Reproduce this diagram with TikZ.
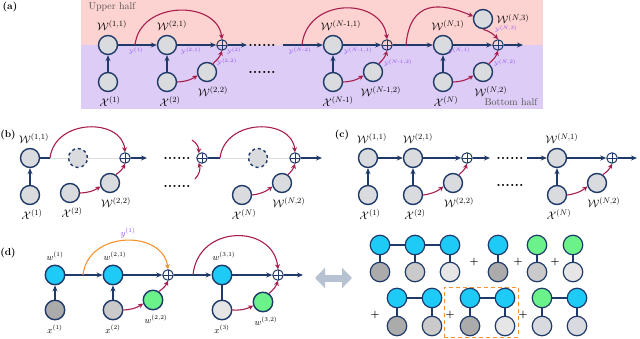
\documentclass[tikz,border=0pt]{standalone}
\usepackage{amsmath,amssymb}
\usepackage{xcolor}
\usepackage{tikz}
\usetikzlibrary{arrows.meta}
\definecolor{navyline}{HTML}{1F3A68}
\definecolor{redarc}{HTML}{A81E4E}
\definecolor{nodegray}{HTML}{D9DBDE}
\definecolor{pinkbg}{HTML}{FCD3D1}
\definecolor{lilacbg}{HTML}{DDCDF6}
\definecolor{labpurple}{HTML}{8E44F0}
\definecolor{cyanfill}{HTML}{1ECBF7}
\definecolor{greenfill}{HTML}{6BF28A}
\definecolor{orangearc}{HTML}{F59331}
\definecolor{graydark}{HTML}{ABABAB}
\definecolor{graymid}{HTML}{CACACA}
\definecolor{graylight}{HTML}{E6E6E6}
\definecolor{grayblue}{HTML}{D8DADF}
\definecolor{fatarrow}{HTML}{B6C2D1}
\definecolor{halftext}{HTML}{555555}
\tikzset{every node/.append style={font=\rmfamily}}
\tikzset{
  unit/.style={circle,draw=navyline,line width=1.4pt,fill=nodegray,minimum size=19pt,inner sep=0pt},
  ghost/.style={unit,dashed},
  site/.style={circle,draw=navyline,line width=1.2pt,minimum size=19.5pt,inner sep=0pt},
  summ/.style={circle,draw=navyline,line width=1pt,minimum size=10.5pt,inner sep=0pt,
    path picture={\draw[navyline,line width=.8pt]
      (path picture bounding box.north)--(path picture bounding box.south)
      (path picture bounding box.west)--(path picture bounding box.east);}},
  flow/.style={navyline,line width=1.3pt,-{Stealth[length=6pt,width=5pt]}},
  stub/.style={navyline,line width=1.3pt},
  link/.style={redarc,line width=1.1pt,-{Stealth[length=5pt,width=5pt]}},
  faint/.style={gray!25,line width=.4pt},
  bond/.style={navyline,line width=1.1pt},
  wlab/.style={font=\fontsize{11}{13}\selectfont,label distance=1pt},
  dlab/.style={font=\small,label distance=1pt},
  ylab/.style={text=labpurple,font=\tiny},
  dots/.style={font=\Large\bfseries},
  tag/.style={font=\normalsize\bfseries},
  plus/.style={font=\normalsize\bfseries},
  equivarrow/.style={fatarrow,line width=7pt,
    {Triangle[length=10pt,width=20pt]}-{Triangle[length=10pt,width=20pt]}},
}

\begin{document}
\begin{tikzpicture}[>=Stealth,x=1pt,y=-1pt]
  \useasboundingbox (0,0) rectangle (640,339);
  % (a) the two halves behind the chain
  \fill[pinkbg] (81,0) rectangle (543,45);
  \fill[lilacbg] (81,45) rectangle (543,109);
  \node[tag] (taga) at (10,7) {(a)};
  \node[anchor=west,text=halftext] (upper) at (85,7) {Upper half};
  \node[anchor=east,text=halftext] (lower) at (541,102) {Bottom half};

  \node[unit,label={[wlab,xshift=4pt]above:$\mathcal{W}^{(1,1)}$}] (a11) at (108,45) {};
  \node[unit,label={[wlab,xshift=2pt]below:$\mathcal{X}^{(1)}$}] (ax1) at (108,82) {};
  \node[unit,label={[wlab,xshift=5pt]above:$\mathcal{W}^{(2,1)}$}] (a21) at (167,45) {};
  \node[unit,label={[wlab,xshift=3pt]below:$\mathcal{X}^{(2)}$}] (ax2) at (167,82) {};
  \node[unit,label={[wlab,xshift=6pt]below:$\mathcal{W}^{(2,2)}$}] (a22) at (207,72) {};
  \node[summ] (ap2) at (222,45) {};
  \node[dots] (adots1) at (262,45) {......};
  \node[dots] (adots2) at (262,72) {......};
  \coordinate (afork1) at (135,45);
  \coordinate (aout2) at (247,45);
  \coordinate (ain) at (283,45);
  \coordinate (afork2) at (302,45);

  \node[unit,label={[wlab,xshift=8pt]above:$\mathcal{W}^{(N\text{-}1,1)}$}] (aN11) at (333,45) {};
  \node[unit,label={[wlab,xshift=5pt]below:$\mathcal{X}^{(N\text{-}1)}$}] (aNx1) at (333,82) {};
  \node[unit,label={[wlab,xshift=8pt]below:$\mathcal{W}^{(N\text{-}1,2)}$}] (aN12) at (373,72) {};
  \node[summ] (apN1) at (387,45) {};
  \coordinate (afork3) at (406,45);
  \node[unit,label={[wlab,xshift=5pt]above:$\mathcal{W}^{(N,1)}$}] (aN1) at (443,45) {};
  \node[unit,label={[wlab,xshift=3pt]below:$\mathcal{X}^{(N)}$}] (aNx) at (443,82) {};
  \node[unit,label={[wlab,xshift=8pt]below:$\mathcal{W}^{(N,2)}$}] (aN2) at (483,72) {};
  \node[unit,label={[wlab,label distance=0pt]right:$\mathcal{W}^{(N,3)}$}] (aN3) at (483,19) {};
  \node[summ] (apN) at (498,45) {};
  \coordinate (aoutN) at (523,45);

  \draw[flow] (ax1) -- (a11);
  \draw[flow] (a11) -- (a21);
  \draw[flow] (ax2) -- (a21);
  \draw[flow] (a21) -- (ap2);
  \draw[flow] (ap2) -- (aout2);
  \draw[link] (ax2.east) to[bend right=15] (a22.200);
  \draw[link] (a22.55) to[bend right=15] (ap2.south);
  \draw[link] (afork1) .. controls (140,0) and (217,0) .. (ap2.north);
  \draw[flow] (ain) -- (aN11);
  \draw[link] (afork2) .. controls (307,-3) and (382,-3) .. (apN1.north);
  \draw[flow] (aNx1) -- (aN11);
  \draw[flow] (aN11) -- (apN1);
  \draw[link] (aNx1.east) to[bend right=15] (aN12.200);
  \draw[link] (aN12.55) to[bend right=15] (apN1.south);
  \draw[flow] (apN1) -- (aN1);
  \draw[link] (afork3) .. controls (410,0) and (440,2) .. (aN3.165);
  \draw[flow] (aNx) -- (aN1);
  \draw[flow] (aN1) -- (apN);
  \draw[link] (aNx.east) to[bend right=15] (aN2.200);
  \draw[link] (aN2.55) to[bend right=15] (apN.south);
  \draw[link] (aN3.south) to[bend left=15] (apN.north);
  \draw[flow] (apN) -- (aoutN);

  \node[ylab] (ya1) at (136,51) {$\mathcal{Y}^{(1)}$};
  \node[ylab] (ya21) at (191,51) {$\mathcal{Y}^{(2,1)}$};
  \node[ylab] (ya2) at (234,51) {$\mathcal{Y}^{(2)}$};
  \node[ylab] (ya22) at (227,62) {$\mathcal{Y}^{(2,2)}$};
  \node[ylab] (yaN2) at (300,51) {$\mathcal{Y}^{(N\text{-}2)}$};
  \node[ylab] (yaN11) at (358,51) {$\mathcal{Y}^{(N\text{-}1,1)}$};
  \node[ylab] (yaN12) at (398,63) {$\mathcal{Y}^{(N\text{-}1,2)}$};
  \node[ylab] (yaN1) at (459,51) {$\mathcal{Y}^{(N,1)}$};
  \node[ylab] (yaN3) at (506,29) {$\mathcal{Y}^{(N,3)}$};
  \node[ylab] (yaNb) at (505,63) {$\mathcal{Y}^{(N,2)}$};

  % (b) the middle units are left out
  \node[tag] (tagb) at (8,135) {(b)};
  \node[unit,label={[wlab,xshift=4pt]above:$\mathcal{W}^{(1,1)}$}] (b11) at (30,158) {};
  \node[unit,label={[wlab,xshift=2pt]below:$\mathcal{X}^{(1)}$}] (bx1) at (30,195) {};
  \node[ghost] (bg1) at (78,158) {};
  \node[summ] (bp1) at (125,158) {};
  \node[unit,label={[wlab,xshift=2pt]below:$\mathcal{X}^{(2)}$}] (bx2) at (70,193) {};
  \node[unit,label={[wlab,xshift=6pt]below:$\mathcal{W}^{(2,2)}$}] (b22) at (110,183) {};
  \coordinate (bfork1) at (50,158);
  \coordinate (bout1) at (147,158);
  \node[dots] (bdots1) at (177,158) {......};
  \node[dots] (bdots2) at (177,186) {......};
  \node[summ] (bp2) at (202,158) {};
  \coordinate (bin1) at (192,140);
  \coordinate (bin2) at (195,179);
  \coordinate (bfork2) at (220,158);
  \node[ghost] (bg2) at (258,158) {};
  \node[summ] (bpN) at (295,158) {};
  \node[unit,label={[wlab,xshift=2pt]below:$\mathcal{X}^{(N)}$}] (bxN) at (242,195) {};
  \node[unit,label={[wlab,xshift=7pt]below:$\mathcal{W}^{(N,2)}$}] (bN2) at (282,183) {};
  \coordinate (boutN) at (322,158);

  \draw[flow] (bx1) -- (b11);
  \draw[stub] (b11) -- (bfork1);
  \draw[faint] (bfork1) -- (bg1);
  \draw[faint] (bg1) -- (bp1);
  \draw[link] (bfork1) .. controls (55,118) and (122,118) .. (bp1.north);
  \draw[flow] (bp1) -- (bout1);
  \draw[link] (bx2.east) to[bend right=15] (b22.200);
  \draw[link] (b22.55) to[bend right=15] (bp1.south);
  \draw[link] (bin1) to[bend left=30] (bp2.125);
  \draw[link] (bin2) to[bend right=30] (bp2.235);
  \draw[stub] (bp2) -- (bfork2);
  \draw[faint] (bfork2) -- (bg2);
  \draw[faint] (bg2) -- (bpN);
  \draw[link] (bfork2) .. controls (225,118) and (292,118) .. (bpN.north);
  \draw[flow] (bpN) -- (boutN);
  \draw[link] (bxN.east) to[bend right=15] (bN2.200);
  \draw[link] (bN2.55) to[bend right=15] (bpN.south);

  % (c) no skip connections
  \node[tag] (tagc) at (342,135) {(c)};
  \node[unit,label={[wlab,xshift=4pt]above:$\mathcal{W}^{(1,1)}$}] (c11) at (368,158) {};
  \node[unit,label={[wlab,xshift=2pt]below:$\mathcal{X}^{(1)}$}] (cx1) at (368,195) {};
  \node[unit,label={[wlab,xshift=5pt]above:$\mathcal{W}^{(2,1)}$}] (c21) at (413,158) {};
  \node[unit,label={[wlab,xshift=2pt]below:$\mathcal{X}^{(2)}$}] (cx2) at (413,195) {};
  \node[unit,label={[wlab,xshift=6pt]below:$\mathcal{W}^{(2,2)}$}] (c22) at (453,183) {};
  \node[summ] (cp2) at (467,158) {};
  \coordinate (cout2) at (490,158);
  \node[dots] (cdots1) at (510,158) {......};
  \node[dots] (cdots2) at (510,185) {......};
  \coordinate (cin) at (527,158);
  \node[unit,label={[wlab,xshift=5pt]above:$\mathcal{W}^{(N,1)}$}] (cN1) at (557,158) {};
  \node[unit,label={[wlab,xshift=2pt]below:$\mathcal{X}^{(N)}$}] (cxN) at (557,195) {};
  \node[unit,label={[wlab,xshift=7pt]below:$\mathcal{W}^{(N,2)}$}] (cN2) at (597,183) {};
  \node[summ] (cpN) at (612,158) {};
  \coordinate (coutN) at (637,158);

  \draw[flow] (cx1) -- (c11);
  \draw[flow] (c11) -- (c21);
  \draw[flow] (cx2) -- (c21);
  \draw[flow] (c21) -- (cp2);
  \draw[flow] (cp2) -- (cout2);
  \draw[link] (cx2.east) to[bend right=15] (c22.200);
  \draw[link] (c22.55) to[bend right=15] (cp2.south);
  \draw[flow] (cin) -- (cN1);
  \draw[flow] (cxN) -- (cN1);
  \draw[flow] (cN1) -- (cpN);
  \draw[link] (cxN.east) to[bend right=15] (cN2.200);
  \draw[link] (cN2.55) to[bend right=15] (cpN.south);
  \draw[flow] (cpN) -- (coutN);

  % (d) a three-step chain and its expansion
  \node[tag] (tagd) at (8,253) {(d)};
  \node[unit,fill=cyanfill,minimum size=19.5pt,label={[dlab]above:$w^{(1)}$}] (d1) at (55,275) {};
  \node[unit,fill=graydark,minimum size=19.5pt,label={[dlab]below:$x^{(1)}$}] (dx1) at (55,310) {};
  \node[unit,fill=cyanfill,minimum size=19.5pt,label={[dlab,xshift=2pt]above:$w^{(2,1)}$}] (d21) at (113,275) {};
  \node[unit,fill=graymid,minimum size=19.5pt,label={[dlab]below:$x^{(2)}$}] (dx2) at (113,310) {};
  \node[unit,fill=greenfill,minimum size=19.5pt,label={[dlab,xshift=3pt]below:$w^{(2,2)}$}] (d22) at (153,300) {};
  \node[summ] (dp2) at (168,275) {};
  \coordinate (dfork1) at (83,275);
  \coordinate (dfork2) at (193,275);
  \node[unit,fill=cyanfill,minimum size=19.5pt,label={[dlab,xshift=2pt]above:$w^{(3,1)}$}] (d31) at (222,275) {};
  \node[unit,fill=graylight,minimum size=19.5pt,label={[dlab]below:$x^{(3)}$}] (dx3) at (222,310) {};
  \node[unit,fill=greenfill,minimum size=19.5pt,label={[dlab,xshift=3pt]below:$w^{(3,2)}$}] (d32) at (263,302) {};
  \node[summ] (dp3) at (278,275) {};
  \coordinate (dout) at (303,275);
  \node[text=labpurple,font=\small] (yd1) at (128,233) {$y^{(1)}$};

  \draw[flow] (dx1) -- (d1);
  \draw[flow] (d1) -- (d21);
  \draw[flow] (dx2) -- (d21);
  \draw[flow] (d21) -- (dp2);
  \draw[orangearc,line width=1.1pt,-{Stealth[length=5pt,width=5pt]}]
    (dfork1) .. controls (88,230) and (163,230) .. (dp2.north);
  \draw[link] (dx2.east) to[bend right=15] (d22.200);
  \draw[link] (d22.55) to[bend right=15] (dp2.south);
  \draw[flow] (dp2) -- (d31);
  \draw[link] (dfork2) .. controls (198,224) and (273,224) .. (dp3.north);
  \draw[stub] (dx3) -- (d31);
  \draw[flow] (d31) -- (dp3);
  \draw[link] (dx3.east) to[bend right=15] (d32.200);
  \draw[link] (d32.55) to[bend right=15] (dp3.south);
  \draw[flow] (dp3) -- (dout);

  \coordinate (eqL) at (315,278);
  \coordinate (eqR) at (352,278);
  \draw[equivarrow] (eqL) -- (eqR);

  % expansion, first row
  \node[site,fill=cyanfill] (r1a) at (380,245) {};
  \node[site,fill=cyanfill] (r1b) at (415,245) {};
  \node[site,fill=cyanfill] (r1c) at (450,245) {};
  \node[site,fill=graydark] (r1x) at (380,272) {};
  \node[site,fill=graymid] (r1y) at (415,272) {};
  \node[site,fill=graylight] (r1z) at (450,272) {};
  \node[plus] (pl1) at (474,262) {+};
  \node[site,fill=cyanfill] (r2a) at (498,245) {};
  \node[site,fill=graydark] (r2x) at (498,272) {};
  \node[plus] (pl2) at (518,262) {+};
  \node[site,fill=greenfill] (r3a) at (537,245) {};
  \node[site,fill=graymid] (r3x) at (537,272) {};
  \node[plus] (pl3) at (555,262) {+};
  \node[site,fill=greenfill] (r4a) at (573,245) {};
  \node[site,fill=graylight] (r4x) at (573,272) {};
  \draw[bond] (r1a) -- (r1b);
  \draw[bond] (r1b) -- (r1c);
  \draw[bond] (r1a) -- (r1x);
  \draw[bond] (r1b) -- (r1y);
  \draw[bond] (r1c) -- (r1z);
  \draw[bond] (r2a) -- (r2x);
  \draw[bond] (r3a) -- (r3x);
  \draw[bond] (r4a) -- (r4x);

  % expansion, second row
  \node[plus] (pl4) at (375,315) {+};
  \node[site,fill=cyanfill] (r5a) at (397,298) {};
  \node[site,fill=cyanfill] (r5b) at (432,298) {};
  \node[site,fill=graydark] (r5x) at (397,326) {};
  \node[site,fill=graymid] (r5y) at (432,326) {};
  \node[draw=orangearc,line width=1pt,dash pattern=on 4pt off 3pt,
    minimum width=74pt,minimum height=50pt] (pick) at (481,312) {};
  \node[plus] (pl5) at (450,315) {+};
  \node[site,fill=cyanfill] (r6a) at (470,298) {};
  \node[site,fill=cyanfill] (r6b) at (505,298) {};
  \node[site,fill=graydark] (r6x) at (470,326) {};
  \node[site,fill=graylight] (r6y) at (505,326) {};
  \node[plus] (pl6) at (523,315) {+};
  \node[site,fill=greenfill] (r7a) at (542,298) {};
  \node[site,fill=cyanfill] (r7b) at (577,298) {};
  \node[site,fill=grayblue] (r7x) at (542,326) {};
  \node[site,fill=grayblue] (r7y) at (577,326) {};
  \draw[bond] (r5a) -- (r5b);
  \draw[bond] (r5a) -- (r5x);
  \draw[bond] (r5b) -- (r5y);
  \draw[bond] (r6a) -- (r6b);
  \draw[bond] (r6a) -- (r6x);
  \draw[bond] (r6b) -- (r6y);
  \draw[bond] (r7a) -- (r7b);
  \draw[bond] (r7a) -- (r7x);
  \draw[bond] (r7b) -- (r7y);
\end{tikzpicture}
\end{document}
